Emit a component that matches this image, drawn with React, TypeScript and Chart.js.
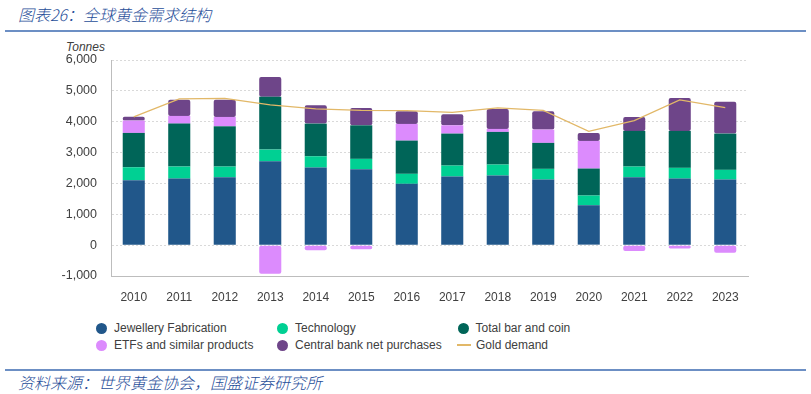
import React, { useEffect, useRef } from "react";
import { Chart, registerables } from "chart.js";

Chart.register(...registerables);

const years = ["2010", "2011", "2012", "2013", "2014", "2015", "2016", "2017", "2018", "2019", "2020", "2021", "2022", "2023"];
const jewellery = [2104, 2158, 2201, 2718, 2515, 2460, 1987, 2223, 2256, 2126, 1294, 2201, 2158, 2126];
const technology = [420, 389, 346, 379, 365, 336, 324, 356, 356, 346, 314, 346, 347, 314];
const barCoin = [1113, 1392, 1304, 1715, 1059, 1087, 1077, 1036, 1058, 842, 874, 1155, 1197, 1175];
const etfs = [400, 249, 304, -926, -162, -130, 541, 268, 97, 430, 896, -190, -110, -244];
const centralBank = [120, 527, 560, 638, 592, 564, 408, 356, 647, 593, 259, 453, 1068, 1035];
const goldDemand = [4155, 4738, 4757, 4544, 4414, 4369, 4358, 4304, 4447, 4369, 3689, 4035, 4705, 4456];
const yTicks = [-1000, 0, 1000, 2000, 3000, 4000, 5000, 6000];

const C_JEW = "#21578A";
const C_TECH = "#00D093";
const C_BAR = "#006558";
const C_ETF = "#DC8BFD";
const C_CB = "#6E4589";
const C_GOLD = "#E2B868";

const legendItems = [
  { label: "Jewellery Fabrication", color: C_JEW, kind: "dot", x: 96, y: 328 },
  { label: "Technology", color: C_TECH, kind: "dot", x: 277, y: 328 },
  { label: "Total bar and coin", color: C_BAR, kind: "dot", x: 457.5, y: 328 },
  { label: "ETFs and similar products", color: C_ETF, kind: "dot", x: 96, y: 345 },
  { label: "Central bank net purchases", color: C_CB, kind: "dot", x: 277, y: 345 },
  { label: "Gold demand", color: C_GOLD, kind: "line", x: 457, y: 345 },
];

export default function App() {
  const canvasRef = useRef<HTMLCanvasElement | null>(null);

  useEffect(() => {
    document.body.style.margin = "0";
    const canvas = canvasRef.current;
    if (!canvas) return;
    const barDs = (label: string, data: number[], color: string) => ({
      type: "bar" as const,
      label,
      data,
      backgroundColor: color,
      borderRadius: 2,
      borderSkipped: false as any,
      barPercentage: 0.485,
      categoryPercentage: 1,
      order: 1,
      stack: "s",
    });
    const chart = new Chart(canvas, {
      type: "bar",
      data: {
        labels: years,
        datasets: [
          {
            type: "line" as const,
            label: "Gold demand",
            data: goldDemand,
            borderColor: C_GOLD,
            borderWidth: 1.3,
            pointRadius: 0,
            tension: 0,
            order: 0,
            stack: "line",
          } as any,
          barDs("Jewellery Fabrication", jewellery, C_JEW),
          barDs("Technology", technology, C_TECH),
          barDs("Total bar and coin", barCoin, C_BAR),
          barDs("ETFs and similar products", etfs, C_ETF),
          barDs("Central bank net purchases", centralBank, C_CB),
        ],
      },
      options: {
        animation: false,
        responsive: false,
        maintainAspectRatio: false,
        layout: { padding: { left: 0, right: 63, top: 24, bottom: 0 } },
        plugins: { legend: { display: false }, tooltip: { enabled: false } },
        scales: {
          x: {
            stacked: true,
            grid: { display: false },
            border: { display: true, color: "#BDBDBD", width: 1 },
            ticks: { color: "#404040", font: { family: "'Liberation Sans', Arial, sans-serif", size: 12 }, padding: 6, maxRotation: 0 },
            afterFit: (s: any) => { s.height = 34; },
          },
          y: {
            stacked: true,
            min: -1000,
            max: 6000,
            afterBuildTicks: (s: any) => { s.ticks = yTicks.map((v) => ({ value: v })); },
            grid: { color: "#D9D9D9", lineWidth: 1, drawTicks: false },
            border: { display: true, color: "#BDBDBD", width: 1, dash: [2, 2] },
            ticks: {
              color: "#404040",
              font: { family: "'Liberation Sans', Arial, sans-serif", size: 12.5 },
              padding: 14,
              callback: (v: any) => Number(v).toLocaleString("en-US"),
            },
            afterFit: (s: any) => { s.width = 111; },
          },
        },
      } as any,
    });
    return () => chart.destroy();
  }, []);

  const cjk = "'Noto Sans CJK SC', sans-serif";
  return (
    <div style={{ position: "relative", width: 811, height: 394, background: "#fff", overflow: "hidden", fontFamily: "'Liberation Sans', Arial, sans-serif" }}>
      <div style={{ position: "absolute", left: 18, top: 3, fontFamily: cjk, fontStyle: "italic", fontWeight: 300, fontSize: 16, color: "#1F4E99", whiteSpace: "nowrap", lineHeight: "22px" }}>
        图表26：全球黄金需求结构
      </div>
      <div style={{ position: "absolute", left: 5, top: 30, width: 801, height: 2, background: "#6C8FC4" }} />
      <div style={{ position: "absolute", left: 66, top: 40, fontStyle: "italic", fontSize: 12, color: "#404040", lineHeight: "14px" }}>Tonnes</div>
      <canvas ref={canvasRef} width={811} height={274} style={{ position: "absolute", left: 0, top: 36, width: 811, height: 274 }} />
      {legendItems.map((it) => (
        <div key={it.label} style={{ position: "absolute", left: it.x, top: it.y - 8, height: 16, display: "flex", alignItems: "center", whiteSpace: "nowrap" }}>
          {it.kind === "dot" ? (
            <span style={{ display: "inline-block", width: 11, height: 11, borderRadius: "50%", background: it.color, marginRight: 7 }} />
          ) : (
            <span style={{ display: "inline-block", width: 14, height: 1.5, background: it.color, marginRight: 5 }} />
          )}
          <span style={{ fontSize: 12, color: "#404040" }}>{it.label}</span>
        </div>
      ))}
      <div style={{ position: "absolute", left: 5, top: 369, width: 801, height: 2, background: "#6C8FC4" }} />
      <div style={{ position: "absolute", left: 18, top: 372, fontFamily: cjk, fontStyle: "italic", fontWeight: 300, fontSize: 16, color: "#1F4E99", whiteSpace: "nowrap", lineHeight: "20px" }}>
        资料来源：世界黄金协会，国盛证券研究所
      </div>
    </div>
  );
}
